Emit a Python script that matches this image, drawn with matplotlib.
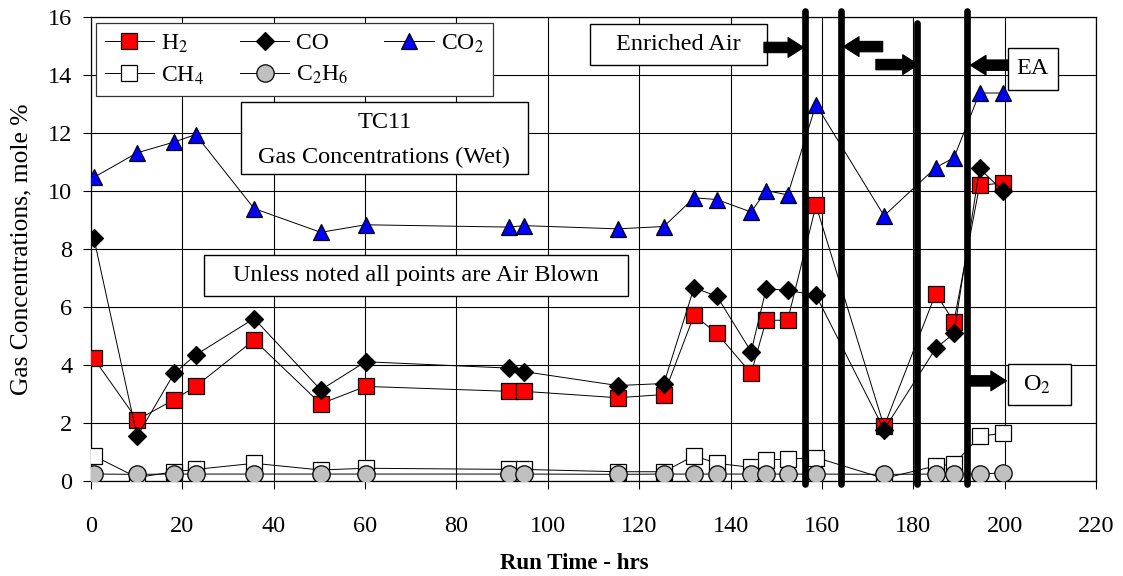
import matplotlib
matplotlib.use("Agg")
import matplotlib.pyplot as plt
from matplotlib.patches import Rectangle

plt.rcParams['font.family'] = ['Liberation Serif', 'DejaVu Serif']
plt.rcParams['mathtext.fontset'] = 'stix'

# ---- data ----
run_time = [0.6, 10.1, 18.2, 22.9, 35.7, 50.3, 60.1, 91.6, 94.8, 115.3, 125.4,
            132.0, 137.0, 144.5, 147.8, 152.5, 158.7, 173.6, 184.9, 188.9, 194.5, 199.7]
h2 = [4.23, 2.11, 2.80, 3.26, 4.86, 2.66, 3.26, 3.09, 3.09, 2.87, 2.98,
      5.71, 5.09, 3.71, 5.54, 5.54, 9.50, 1.88, 6.46, 5.49, 10.19, 10.27]
co = [8.39, 1.54, 3.71, 4.34, 5.60, 3.14, 4.11, 3.89, 3.77, 3.29, 3.36,
      6.66, 6.37, 4.46, 6.63, 6.57, 6.40, 1.77, 4.57, 5.09, 10.77, 9.98]
co2 = [10.46, 11.31, 11.68, 11.94, 9.39, 8.57, 8.83, 8.75, 8.80, 8.69, 8.77,
       9.76, 9.70, 9.27, 10.01, 9.86, 12.97, 9.14, 10.80, 11.14, 13.37, 13.37]
ch4 = [0.87, 0.12, 0.32, 0.40, 0.61, 0.38, 0.44, 0.40, 0.40, 0.32, 0.32,
       0.87, 0.61, 0.47, 0.73, 0.75, 0.81, 0.09, 0.52, 0.58, 1.54, 1.65]
c2h6 = [0.24, 0.23, 0.24, 0.24, 0.24, 0.24, 0.24, 0.24, 0.24, 0.23, 0.24,
        0.24, 0.24, 0.24, 0.24, 0.24, 0.24, 0.23, 0.24, 0.24, 0.23, 0.29]
x_ticks = list(range(0, 221, 20))
y_ticks = list(range(0, 17, 2))
change_times = [156.2, 164.1, 180.9, 191.7]

FS = 17.5

fig = plt.figure(figsize=(11.23, 5.76), dpi=100)
ax = fig.add_axes([0.0810, 0.1649, 0.8950, 0.8061])

common = dict(color='black', lw=0.7, markeredgecolor='black', markeredgewidth=0.9)
l_h2, = ax.plot(run_time, h2, marker='s', ms=11.5, markerfacecolor='#FF0000', label=r'H$_2$', zorder=3, **common)
l_co, = ax.plot(run_time, co, marker='D', ms=9.5, markerfacecolor='black', label='CO', zorder=4, **common)
l_co2, = ax.plot(run_time, co2, marker='^', ms=12, markerfacecolor='#0000FF', label=r'CO$_2$', zorder=3, **common)
l_ch4, = ax.plot(run_time, ch4, marker='s', ms=11.5, markerfacecolor='white', label=r'CH$_4$', zorder=3, **common)
l_c2h6, = ax.plot(run_time, c2h6, marker='o', ms=12.5, markerfacecolor='#C0C0C0', label=r'C$_2$H$_6$', zorder=4, **common)

# thick vertical change lines
tops = [16.2, 16.2, 15.8, 16.2]
for xc, tp in zip(change_times, tops):
    ax.plot([xc, xc], [-0.12, tp], color='black', lw=4.8, solid_capstyle='round',
            clip_on=False, zorder=5)

ax.set_xlim(0, 220)
ax.set_ylim(0, 16)
ax.set_xticks(x_ticks)
ax.set_yticks(y_ticks)
ax.tick_params(axis='both', direction='out', length=6, width=0.8, labelsize=FS)
ax.tick_params(axis='x', pad=19)
ax.tick_params(axis='y', pad=7.5)
ax.grid(True, color='black', lw=0.8)
ax.set_axisbelow(True)
for s in ax.spines.values():
    s.set_linewidth(0.9)

ax.set_xlabel('Run Time - hrs', fontsize=16.5, fontweight='bold')
ax.xaxis.label.set_va('baseline')
ax.xaxis.set_label_coords(0.481, -0.190)
ax.set_ylabel('Gas Concentrations, mole %', fontsize=18.4)
ax.yaxis.label.set_va('center')
ax.yaxis.set_label_coords(-0.0687, 0.50)

leg = ax.legend(handles=[l_h2, l_ch4, l_co, l_c2h6, l_co2], ncol=3, loc='upper left',
                bbox_to_anchor=(0.0047, 0.9858), borderaxespad=0, fontsize=17,
                frameon=True, fancybox=False, edgecolor='#333333', framealpha=1,
                handlelength=2.1, handletextpad=0.3, columnspacing=1.5,
                labelspacing=0.42, borderpad=0.38)
leg.get_frame().set_linewidth(0.9)
leg.set_zorder(6)

def box(x0, x1, y0, y1):
    ax.add_patch(Rectangle((x0, y0), x1 - x0, y1 - y0, facecolor='white',
                           edgecolor='black', lw=1.0, zorder=6))

box(32.8, 95.6, 10.57, 13.07)
ax.text(64.2, 12.34, 'TC11', ha='center', va='center', fontsize=FS, zorder=7)
ax.text(64.2, 11.16, 'Gas Concentrations (Wet)', ha='center', va='center', fontsize=FS, zorder=7)

box(24.8, 117.5, 6.37, 7.79)
ax.text(71.1, 7.08, 'Unless noted all points are Air Blown', ha='center', va='center', fontsize=FS, zorder=7)

box(109.3, 147.9, 14.34, 15.75)
ax.text(128.6, 15.05, 'Enriched Air', ha='center', va='center', fontsize=FS, zorder=7)

box(200.7, 211.6, 13.49, 14.91)
ax.text(206.1, 14.2, 'EA', ha='center', va='center', fontsize=FS, zorder=7)

box(200.7, 214.5, 2.61, 4.02)
ax.text(207.0, 3.3, r'O$_2$', ha='center', va='center', fontsize=FS, zorder=7)

def arrow(x0, x1, y):
    ax.annotate('', xy=(x1, y), xytext=(x0, y),
                arrowprops=dict(arrowstyle='simple,head_length=0.75,head_width=0.95,tail_width=0.5',
                                fc='black', ec='black', lw=0.8, mutation_scale=15,
                                shrinkA=0, shrinkB=0), zorder=7, annotation_clip=False)

arrow(147.3, 156.0, 14.94)
arrow(173.3, 164.7, 14.97)
arrow(171.8, 181.1, 14.35)
arrow(200.7, 192.5, 14.33)
arrow(192.4, 200.4, 3.45)

fig.savefig('out.png', dpi=100)
